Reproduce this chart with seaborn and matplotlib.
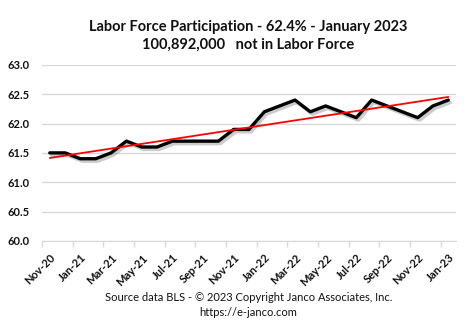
import numpy as np
import pandas as pd
import matplotlib
matplotlib.use("Agg")
import matplotlib.pyplot as plt
import matplotlib.patheffects as pe
import seaborn as sns

months = ["Nov-20", "Dec-20", "Jan-21", "Feb-21", "Mar-21", "Apr-21", "May-21",
          "Jun-21", "Jul-21", "Aug-21", "Sep-21", "Oct-21", "Nov-21", "Dec-21",
          "Jan-22", "Feb-22", "Mar-22", "Apr-22", "May-22", "Jun-22", "Jul-22",
          "Aug-22", "Sep-22", "Oct-22", "Nov-22", "Dec-22", "Jan-23"]
participation = [61.5, 61.5, 61.4, 61.4, 61.5, 61.7, 61.6,
                 61.6, 61.7, 61.7, 61.7, 61.7, 61.9, 61.9,
                 62.2, 62.3, 62.4, 62.2, 62.3, 62.2, 62.1,
                 62.4, 62.3, 62.2, 62.1, 62.3, 62.4]
tick_labels = months[::2]
y_ticks = [60.0, 60.5, 61.0, 61.5, 62.0, 62.5, 63.0]

sns.set_style("white")
plt.rcParams['font.family'] = ['Lato', 'DejaVu Sans']

fig = plt.figure(figsize=(4.73, 3.36), dpi=100)
ax = fig.add_axes([0.089, 0.283, 0.875, 0.524])

df = pd.DataFrame({"idx": np.arange(len(months)), "rate": participation})
sns.lineplot(data=df, x="idx", y="rate", ax=ax, color="black", lw=2.4,
             path_effects=[pe.SimpleLineShadow(offset=(1.5, -1.8), shadow_color="#808080", alpha=0.4),
                           pe.Normal()])
coef = np.polyfit(df["idx"], df["rate"], 1)
df["trend"] = np.polyval(coef, df["idx"])
sns.lineplot(data=df, x="idx", y="trend", ax=ax, color="red", lw=1.3)

ax.set_xlim(-0.5, len(months) - 0.5)
ax.set_ylim(60, 63)
ax.set_yticks(y_ticks)
ax.set_yticklabels([f"{v:.1f}" for v in y_ticks], fontsize=8, fontweight="bold", color="#111111")
ax.set_xticks(np.arange(0, len(months), 2))
ax.set_xticklabels(tick_labels, rotation=45, ha="right", rotation_mode="anchor",
                   fontsize=8, fontweight="bold", color="#111111")
ax.set_xticks(np.arange(-0.5, len(months) - 1, 2), minor=True)
ax.tick_params(axis="x", which="major", length=0, pad=8)
ax.tick_params(axis="x", which="minor", bottom=True, length=4, width=1, color="#d9d9d9", direction="out")
ax.tick_params(axis="y", length=0, pad=9)
ax.set_xlabel("")
ax.set_ylabel("")
for s in ["left", "right", "top"]:
    ax.spines[s].set_visible(False)
ax.spines["bottom"].set_color("#d9d9d9")
ax.yaxis.grid(True, color="#d9d9d9", lw=1)
ax.set_axisbelow(True)

fig.text(0.525, 0.921, "Labor Force Participation - 62.4% - January 2023",
         ha="center", va="center", fontsize=10.5, fontweight="bold", color="#111111")
fig.text(0.525, 0.866, "100,892,000   not in Labor Force",
         ha="center", va="center", fontsize=10.5, fontweight="bold", color="#111111")
fig.text(0.525, 0.116, "Source data BLS - \u00a9 2023 Copyright Janco Associates, Inc.",
         ha="center", va="center", fontsize=8, color="#111111")
fig.text(0.525, 0.071, "https://e-janco.com",
         ha="center", va="center", fontsize=8, color="#111111")

fig.savefig("out.png", dpi=100)
